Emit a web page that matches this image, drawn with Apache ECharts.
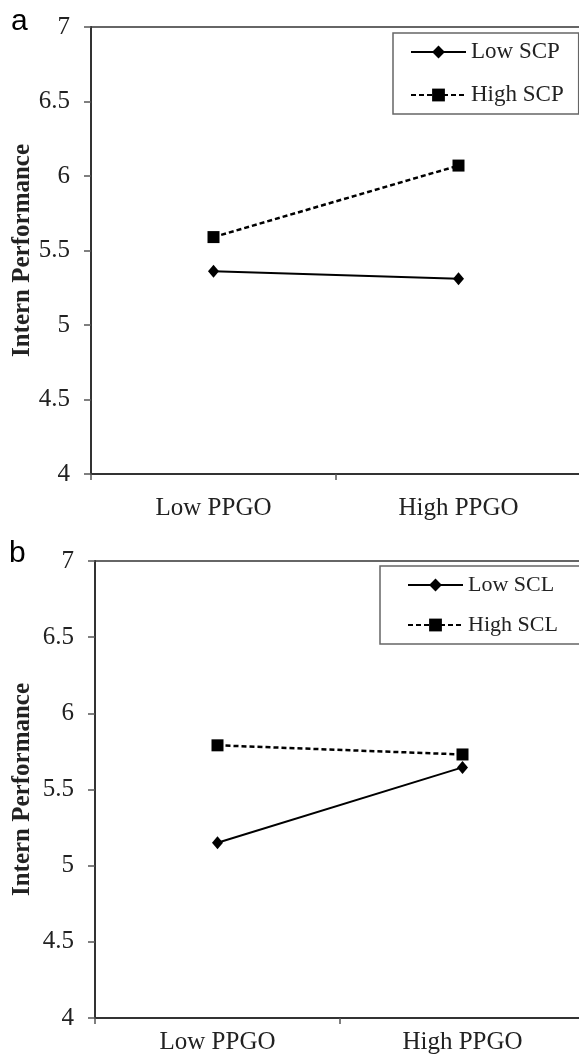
<!DOCTYPE html>
<html style="height: 100%">
    <head>
        <meta charset="utf-8">
    </head>
    <body style="height: 100%; margin: 0; background: #fff">
        <div id="container" style="width: 579px; height: 1058px"></div>

        <script type="text/javascript" src="https://cdn.jsdelivr.net/npm/echarts@6/dist/echarts.min.js"></script>

        <script type="text/javascript">
var dom = document.getElementById("container");
var myChart = echarts.init(dom);

// data
var categories = ['Low PPGO', 'High PPGO'];
var lowSCP = [5.36, 5.31];
var highSCP = [5.59, 6.07];
var lowSCL = [5.15, 5.645];
var highSCL = [5.79, 5.73];

var serif = 'Liberation Serif';
var ink = '#222';

function xAxisFor(idx, margin) {
  return {
    type: 'category',
    gridIndex: idx,
    data: categories,
    boundaryGap: true,
    axisLine: { lineStyle: { color: '#333', width: 2 } },
    axisTick: { show: true, length: 6, lineStyle: { color: '#555', width: 1.5 } },
    axisLabel: { margin: margin, fontFamily: serif, fontSize: 25, color: ink }
  };
}

function yAxisFor(idx, gap) {
  return {
    type: 'value',
    gridIndex: idx,
    min: 4,
    max: 7,
    interval: 0.5,
    name: 'Intern Performance',
    nameLocation: 'middle',
    nameGap: gap,
    nameMoveOverlap: false,
    nameTextStyle: { fontFamily: serif, fontWeight: 'bold', fontSize: 25, color: ink },
    axisLine: { show: true, lineStyle: { color: '#333', width: 2 } },
    axisTick: { show: true, length: 7, lineStyle: { color: '#555', width: 1.5 } },
    axisLabel: { margin: 21, fontFamily: serif, fontSize: 25, color: ink },
    splitLine: { show: false }
  };
}

function lowSeries(name, idx, values) {
  return {
    name: name,
    type: 'line',
    xAxisIndex: idx,
    yAxisIndex: idx,
    data: values,
    symbol: 'diamond',
    symbolSize: [11, 13],
    itemStyle: { color: '#000' },
    lineStyle: { color: '#000', width: 2 }
  };
}

function highSeries(name, idx, values) {
  return {
    name: name,
    type: 'line',
    xAxisIndex: idx,
    yAxisIndex: idx,
    data: values,
    symbol: 'rect',
    symbolSize: 12,
    itemStyle: { color: '#000' },
    lineStyle: { color: '#000', width: 2.5, type: [5, 3] }
  };
}

function legendFor(names, left, top, pad, gap, fs) {
  return {
    data: names,
    orient: 'vertical',
    left: left,
    top: top,
    padding: pad,
    itemGap: gap,
    itemWidth: 55,
    itemHeight: 16,
    backgroundColor: '#fff',
    borderColor: '#666',
    borderWidth: 1.5,
    selectedMode: false,
    textStyle: { fontFamily: serif, fontSize: fs, lineHeight: 26, color: ink }
  };
}

var option = {
  animation: false,
  backgroundColor: '#fff',
  grid: [
    { left: 91, top: 27, width: 490, height: 447, outerBoundsMode: 'none', show: true, borderColor: '#666', borderWidth: 2 },
    { left: 95, top: 561, width: 490, height: 457, outerBoundsMode: 'none', show: true, borderColor: '#666', borderWidth: 2 }
  ],
  xAxis: [xAxisFor(0, 22), xAxisFor(1, 12)],
  yAxis: [yAxisFor(0, 56), yAxisFor(1, 60)],
  legend: [
    legendFor(['Low SCP', 'High SCP'], 393, 33, [6, 15, 6, 17], 17, 23),
    legendFor(['Low SCL', 'High SCL'], 380, 566, [6, 25, 6, 27], 14, 22)
  ],
  graphic: [
    { type: 'text', left: 11, top: 7, style: { text: 'a', font: '30px "Liberation Sans"', fill: '#000' } },
    { type: 'text', left: 9, top: 539, style: { text: 'b', font: '30px "Liberation Sans"', fill: '#000' } }
  ],
  series: [
    lowSeries('Low SCP', 0, lowSCP),
    highSeries('High SCP', 0, highSCP),
    lowSeries('Low SCL', 1, lowSCL),
    highSeries('High SCL', 1, highSCL)
  ]
};

myChart.setOption(option);
        </script>
    </body>
</html>
